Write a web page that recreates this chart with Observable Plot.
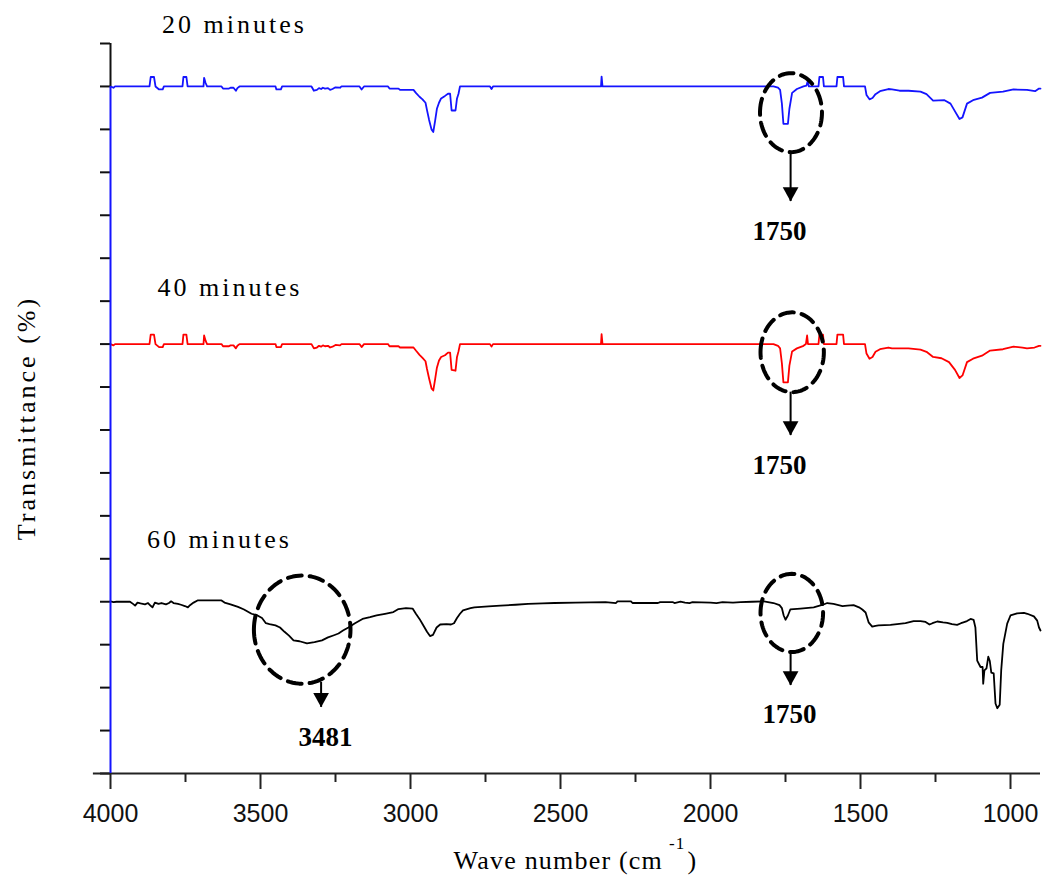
<!DOCTYPE html>
<html><head><meta charset="utf-8">
<script src="https://cdn.jsdelivr.net/npm/d3@7"></script>
<script src="https://cdn.jsdelivr.net/npm/@observablehq/plot@0.6"></script>
<style>body{margin:0;background:#fff}#chart svg{display:block}</style>
</head><body><div id="chart"></div>
<script>
// ---- data: [wave number, transmittance offset units] ----
const series20 = [[4000,16.0],[3990,15.97],[3985,16.0],[3870,16.0],[3866,16.22],[3855,16.22],[3850,16.0],[3838,15.93],[3826,15.93],[3822,16.0],[3760,16.0],[3757,16.22],[3747,16.22],[3743,16.0],[3690,16.0],[3688,16.2],[3683,16.08],[3678,16.0],[3630,16.0],[3625,15.95],[3605,15.95],[3600,15.97],[3590,15.97],[3582,15.9],[3577,15.96],[3570,16.0],[3450,16.0],[3447,15.93],[3432,15.93],[3428,16.0],[3330,16.0],[3322,15.9],[3312,15.92],[3305,15.96],[3298,15.94],[3292,15.97],[3285,15.95],[3275,15.96],[3268,15.92],[3260,15.94],[3250,15.98],[3235,15.97],[3230,16.0],[3170,16.0],[3163,15.93],[3155,16.0],[3075,16.0],[3070,15.95],[3040,15.95],[3035,15.92],[2990,15.92],[2982,15.85],[2970,15.76],[2960,15.7],[2950,15.62],[2945,15.45],[2938,15.22],[2930,15.0],[2924,14.94],[2918,15.2],[2912,15.48],[2905,15.62],[2898,15.72],[2885,15.78],[2875,15.83],[2868,15.83],[2863,15.44],[2850,15.44],[2845,15.72],[2840,15.83],[2835,16.0],[2735,16.0],[2730,15.94],[2725,16.0],[2365,16.0],[2363,16.23],[2360,16.0],[1790,16.0],[1775,15.97],[1768,15.92],[1762,15.6],[1757,15.13],[1742,15.13],[1737,15.48],[1728,15.85],[1712,15.94],[1690,16.0],[1680,16.02],[1676,16.12],[1672,16.0],[1658,16.0],[1640,16.0],[1637,16.22],[1625,16.22],[1622,16.0],[1580,16.0],[1577,16.22],[1558,16.22],[1555,16.0],[1485,16.0],[1480,15.8],[1470,15.7],[1460,15.73],[1450,15.82],[1435,15.89],[1407,15.94],[1395,15.93],[1370,15.9],[1340,15.9],[1300,15.88],[1280,15.82],[1258,15.67],[1220,15.68],[1200,15.6],[1185,15.42],[1170,15.24],[1160,15.28],[1145,15.6],[1125,15.68],[1095,15.74],[1068,15.85],[1025,15.88],[990,15.93],[945,15.92],[918,15.89],[905,15.95],[900,15.95]];

const series40 = [[4000,10.0],[3990,9.97],[3985,10.0],[3870,10.0],[3866,10.22],[3855,10.22],[3850,10.0],[3838,9.93],[3826,9.93],[3822,10.0],[3760,10.0],[3757,10.22],[3747,10.22],[3743,10.0],[3690,10.0],[3688,10.2],[3683,10.08],[3678,10.0],[3630,10.0],[3625,9.95],[3605,9.95],[3600,9.97],[3590,9.97],[3582,9.9],[3577,9.96],[3570,10.0],[3450,10.0],[3447,9.93],[3432,9.93],[3428,10.0],[3330,10.0],[3322,9.9],[3312,9.92],[3305,9.96],[3298,9.94],[3292,9.97],[3285,9.95],[3275,9.96],[3268,9.92],[3260,9.94],[3250,9.98],[3235,9.97],[3230,10.0],[3170,10.0],[3163,9.93],[3155,10.0],[3075,10.0],[3070,9.95],[3040,9.95],[3035,9.92],[2990,9.92],[2982,9.85],[2970,9.75],[2960,9.68],[2950,9.6],[2945,9.42],[2938,9.2],[2930,8.97],[2924,8.92],[2918,9.18],[2912,9.45],[2905,9.62],[2898,9.7],[2885,9.74],[2875,9.8],[2868,9.8],[2863,9.4],[2850,9.38],[2845,9.7],[2840,9.83],[2835,10.0],[2735,10.0],[2730,9.94],[2725,10.0],[2365,10.0],[2363,10.23],[2360,10.0],[1790,10.0],[1775,9.96],[1768,9.9],[1762,9.55],[1757,9.11],[1742,9.11],[1737,9.5],[1728,9.83],[1712,9.9],[1690,9.96],[1682,10.0],[1678,10.2],[1675,10.0],[1640,10.0],[1637,10.22],[1625,10.22],[1622,10.0],[1580,10.0],[1577,10.22],[1558,10.22],[1555,10.0],[1485,10.0],[1480,9.78],[1470,9.66],[1460,9.7],[1450,9.82],[1435,9.88],[1407,9.92],[1395,9.9],[1370,9.9],[1340,9.9],[1300,9.87],[1280,9.82],[1258,9.7],[1230,9.67],[1205,9.58],[1185,9.4],[1170,9.21],[1160,9.27],[1145,9.58],[1125,9.66],[1095,9.73],[1068,9.85],[1025,9.88],[990,9.94],[960,9.92],[945,9.9],[920,9.92],[905,9.96],[900,9.96]];

const series60 = [[4000,4.01],[3990,3.99],[3980,4.0],[3935,4.0],[3925,3.95],[3918,3.91],[3910,3.98],[3900,3.96],[3885,3.94],[3875,3.97],[3865,3.9],[3860,3.87],[3852,3.98],[3840,3.95],[3830,3.97],[3815,3.94],[3805,3.97],[3798,4.01],[3790,3.97],[3775,3.95],[3765,3.93],[3752,3.9],[3742,3.87],[3735,3.92],[3723,3.98],[3710,4.03],[3630,4.03],[3620,3.98],[3600,3.94],[3575,3.88],[3555,3.82],[3530,3.72],[3510,3.68],[3495,3.62],[3482,3.5],[3470,3.48],[3450,3.45],[3435,3.4],[3420,3.3],[3405,3.21],[3390,3.1],[3370,3.08],[3345,3.03],[3320,3.06],[3295,3.1],[3275,3.17],[3255,3.22],[3240,3.26],[3225,3.33],[3207,3.4],[3185,3.5],[3160,3.6],[3135,3.64],[3113,3.68],[3085,3.72],[3057,3.76],[3040,3.83],[3015,3.85],[2993,3.84],[2982,3.72],[2970,3.6],[2960,3.48],[2945,3.3],[2935,3.2],[2925,3.23],[2913,3.4],[2901,3.47],[2880,3.48],[2865,3.47],[2855,3.5],[2845,3.62],[2835,3.72],[2825,3.8],[2800,3.85],[2787,3.87],[2740,3.89],[2700,3.91],[2650,3.93],[2608,3.95],[2560,3.96],[2520,3.97],[2450,3.98],[2350,3.99],[2315,3.97],[2310,4.01],[2265,4.01],[2260,3.97],[2175,3.97],[2168,3.99],[2125,3.99],[2120,3.97],[2100,4.0],[2085,3.98],[2070,3.97],[2060,3.99],[2000,3.98],[1980,3.97],[1960,3.99],[1925,3.98],[1900,3.99],[1862,4.0],[1822,4.01],[1790,3.97],[1770,3.92],[1762,3.85],[1756,3.68],[1750,3.58],[1742,3.68],[1734,3.82],[1700,3.84],[1656,3.87],[1625,3.93],[1611,3.97],[1590,3.95],[1560,3.9],[1544,3.91],[1523,3.92],[1505,3.87],[1494,3.82],[1483,3.75],[1473,3.52],[1461,3.42],[1450,3.44],[1440,3.45],[1400,3.46],[1378,3.48],[1350,3.5],[1323,3.55],[1300,3.55],[1283,3.53],[1270,3.47],[1260,3.5],[1244,3.54],[1225,3.52],[1211,3.51],[1195,3.48],[1178,3.46],[1165,3.5],[1157,3.52],[1145,3.55],[1133,3.6],[1123,3.58],[1117,3.4],[1111,2.63],[1100,2.48],[1093,2.48],[1091,2.09],[1087,2.4],[1080,2.45],[1074,2.72],[1069,2.62],[1064,2.35],[1056,2.33],[1050,1.63],[1044,1.52],[1036,1.6],[1031,2.4],[1024,3.02],[1011,3.49],[1000,3.68],[978,3.73],[955,3.74],[944,3.72],[922,3.66],[911,3.56],[905,3.4],[900,3.33]];

const seriesNames = ["20 minutes", "40 minutes", "60 minutes"];
const seriesColors = ["#1414ff", "#ff0000", "#000000"];
const labelWave = [3828, 3843, 3878];
const labelLevel = [17.43, 11.32, 5.45];

const xTicksMajor = [4000, 3500, 3000, 2500, 2000, 1500, 1000];
const xTicksMinor = [3750, 3250, 2750, 2250, 1750, 1250];
const yTicks = d3.range(0, 18);

// annotations (data units)
const ellipses = [
  {cx: 1731.7, cy: 15.39, rx: 103.3, ry: 0.92},
  {cx: 1727.7, cy: 9.81, rx: 105.6, ry: 0.93},
  {cx: 1729, cy: 3.74, rx: 104.3, ry: 0.91},
  {cx: 3361, cy: 3.35, rx: 161, ry: 1.26}
];
const arrows = [
  {wn: 1733, from: 14.44, to: 13.32},
  {wn: 1733, from: 8.88, to: 7.87},
  {wn: 1733, from: 2.82, to: 2.05},
  {wn: 3298, from: 2.12, to: 1.54}
];
const peakText = ["1750", "1750", "1750", "3481"];
const peakWave = [1770, 1770, 1737, 3283];
const peakLevel = [12.63, 7.17, 1.37, 0.83];

// ---- build rows ----
const rows = [
  ...series20.map(([wn, t]) => ({wn, t, s: seriesNames[0]})),
  ...series40.map(([wn, t]) => ({wn, t, s: seriesNames[1]})),
  ...series60.map(([wn, t]) => ({wn, t, s: seriesNames[2]}))
];
const seriesLabelRows = seriesNames.map((name, i) => ({name, wn: labelWave[i], t: labelLevel[i]}));
const peakRows = peakText.map((text, i) => ({text, wn: peakWave[i], t: peakLevel[i]}));
const ellipsePts = ellipses.flatMap((e, id) =>
  d3.range(0, 97).map(k => {
    const a = (k / 96) * 2 * Math.PI;
    return {id, wn: e.cx + e.rx * Math.cos(a), t: e.cy + e.ry * Math.sin(a)};
  })
);
const downTriangle = {
  draw(ctx, size) {
    const s = Math.sqrt(size / Math.PI);
    const hw = 1.31 * s, h = 2.38 * s;
    ctx.moveTo(0, 0);
    ctx.lineTo(-hw, -h);
    ctx.lineTo(hw, -h);
    ctx.closePath();
  }
};

const serif = "Liberation Serif, Times New Roman, serif";
const sans = "Liberation Sans, Arial, sans-serif";

const plot = Plot.plot({
  width: 1043,
  height: 890,
  marginLeft: 110,
  marginRight: 3,
  marginTop: 43,
  marginBottom: 117,
  style: {fontFamily: sans, fontSize: "25px", background: "#fff", overflow: "visible"},
  x: {domain: [4000, 900]},
  y: {domain: [0, 17]},
  color: {domain: seriesNames, range: seriesColors},
  marks: [
    Plot.line(rows, {x: "wn", y: "t", z: "s", stroke: "s", strokeWidth: 1.8}),
    // axes
    Plot.axisY(yTicks, {tickSize: 10, tickFormat: () => "", label: null, strokeWidth: 2, stroke: "#111"}),
    Plot.axisX(xTicksMinor, {tickSize: 9, tickFormat: () => "", label: null, strokeWidth: 2, stroke: "#222"}),
    Plot.axisX(xTicksMajor, {tickSize: 16, tickPadding: 15, tickFormat: d => String(d), label: null, strokeWidth: 2, stroke: "#222", fontSize: 25, fontFamily: sans, fill: "#111"}),
    Plot.ruleY([0], {x1: 4057, x2: 900, stroke: "#222", strokeWidth: 2}),
    Plot.ruleX([4000], {y1: 16, y2: 17, stroke: "#111", strokeWidth: 2}),
    Plot.ruleX([4000], {y1: 0, y2: 16, stroke: seriesColors[0], strokeWidth: 2}),
    // annotations
    Plot.line(ellipsePts, {x: "wn", y: "t", z: "id", stroke: "black", strokeWidth: 4, strokeDasharray: "14,8"}),
    Plot.ruleX(arrows, {x: "wn", y1: "from", y2: "to", stroke: "black", strokeWidth: 2}),
    Plot.dot(arrows, {x: "wn", y: "to", r: 6, symbol: downTriangle, fill: "black", stroke: "none"}),
    Plot.text(peakRows, {x: "wn", y: "t", text: "text", fontFamily: serif, fontSize: 27, fontWeight: "bold", fill: "black"}),
    Plot.text(seriesLabelRows, {x: "wn", y: "t", text: "name", textAnchor: "start", fontFamily: serif, fontSize: 26, fill: "black"}),
    Plot.text(["Transmittance (%)"], {frameAnchor: "left", textAnchor: "middle", dx: -84, dy: 9.5, rotate: -90, fontFamily: serif, fontSize: 26, fill: "black"}),
    Plot.text(["Wave number (cm"], {frameAnchor: "bottom", dy: 95.7, fontFamily: serif, fontSize: 26, fill: "black"})
  ]
});

const svg = d3.select(plot);
svg.selectAll("text").filter(function () {
  return /minutes|Transmittance/.test(this.textContent);
}).style("letter-spacing", "3px");
svg.selectAll("text").filter(function () {
  return this.textContent === "Wave number (cm";
}).each(function () {
  const t = d3.select(this);
  t.style("letter-spacing", "1.2px");
  t.append("tspan").attr("font-size", 17).attr("dx", 6).attr("dy", -20).text("-1");
  t.append("tspan").attr("font-size", 26).attr("dx", 2).attr("dy", 20).text(")");
});

document.getElementById("chart").appendChild(plot);
</script>
</body></html>
